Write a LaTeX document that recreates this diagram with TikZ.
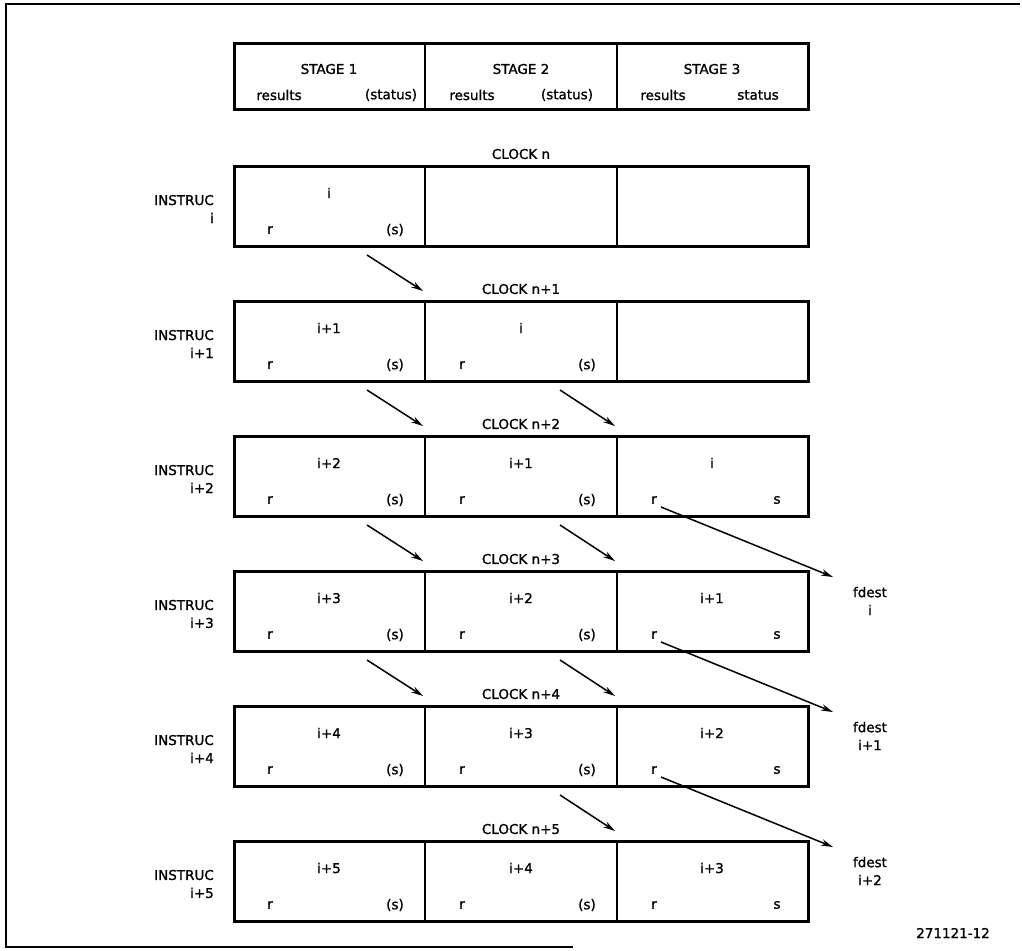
\documentclass[tikz,border=0pt]{standalone}
\usepackage{fontspec}
\setmainfont{DejaVu Sans}
\newfontfamily\plotfont{DejaVu Sans}[FakeBold=1.2]
\usetikzlibrary{arrows.meta}
\begin{document}
\begin{tikzpicture}[x=1pt,y=-1pt,
  lbl/.style={font=\plotfont\fontsize{13.5}{18}\selectfont, inner sep=0pt},
  rowbox/.style={draw, line width=3pt, minimum width=574pt, minimum height=80pt, anchor=north west, inner sep=0pt},
  divider/.style={line width=2pt},
  flow/.style={line width=1.5pt, -{Stealth[length=12pt,width=6.5pt]}},
  frame/.style={line width=1.3pt}]
\useasboundingbox (0,0) rectangle (1022,950);
\draw[frame] (1020,4) -- (6,4) -- (6,947) -- (573,947);
% header
\node[rowbox, minimum height=66pt] (hdr) at (233,42) {};
\draw[divider] (425,42) -- (425,108);
\draw[divider] (617,42) -- (617,108);
\node[lbl] (st1) at (329,69) {STAGE 1};
\node[lbl] (st2) at (521,69) {STAGE 2};
\node[lbl] (st3) at (712,69) {STAGE 3};
\node[lbl] (res1) at (279,95) {results};
\node[lbl] (sta1) at (391,95) {(status)};
\node[lbl] (res2) at (472,95) {results};
\node[lbl] (sta2) at (567,95) {(status)};
\node[lbl] (res3) at (663,95) {results};
\node[lbl] (sta3) at (758,95) {status};
% rows
\foreach \k/\a/\b/\c/\n/\m in {0/i///n/i, 1/i+1/i//n+1/i+1, 2/i+2/i+1/i/n+2/i+2, 3/i+3/i+2/i+1/n+3/i+3, 4/i+4/i+3/i+2/n+4/i+4, 5/i+5/i+4/i+3/n+5/i+5}{
  \pgfmathsetmacro\T{165+135*\k}
  \node[rowbox] (row\k) at (233,\T) {};
  \draw[divider] (425,\T) -- (425,\T+80);
  \draw[divider] (617,\T) -- (617,\T+80);
  \node[lbl] (clk\k) at (521,\T-11) {CLOCK \n};
  \node[lbl, align=right, anchor=east] (ins\k) at (214,\T+44) {INSTRUC\\\m};
  \node[lbl] (a\k) at (329,\T+28) {\a};
  \node[lbl] (ra\k) at (270,\T+65) {r};
  \node[lbl] (sa\k) at (395,\T+65) {(s)};
  \ifnum\k>0
    \node[lbl] (b\k) at (521,\T+28) {\b};
    \node[lbl] (rb\k) at (462,\T+65) {r};
    \node[lbl] (sb\k) at (587,\T+65) {(s)};
  \fi
  \ifnum\k>1
    \node[lbl] (c\k) at (712,\T+28) {\c};
    \node[lbl] (rc\k) at (654,\T+65) {r};
    \node[lbl] (sc\k) at (777,\T+65) {s};
  \fi
}
% stage-to-stage arrows
\foreach \k in {1,2,3,4}{
  \pgfmathsetmacro\T{165+135*\k}
  \coordinate (p\k s) at (367,\T-45);
  \coordinate (p\k e) at (423,\T-9);
  \draw[flow] (p\k s) -- (p\k e);
}
\foreach \k in {2,3,4,5}{
  \pgfmathsetmacro\T{165+135*\k}
  \coordinate (q\k s) at (560,\T-45);
  \coordinate (q\k e) at (615,\T-9);
  \draw[flow] (q\k s) -- (q\k e);
}
% results to fdest
\foreach \k/\d in {2/i,3/i+1,4/i+2}{
  \pgfmathsetmacro\T{165+135*\k}
  \coordinate (f\k s) at (661,\T+72);
  \coordinate (f\k e) at (833,\T+142);
  \draw[flow] (f\k s) -- (f\k e);
  \node[lbl, align=center] (fd\k) at (870,\T+166) {fdest\\\d};
}
\node[lbl] (fig) at (953,933) {271121-12};
\end{tikzpicture}
\end{document}
